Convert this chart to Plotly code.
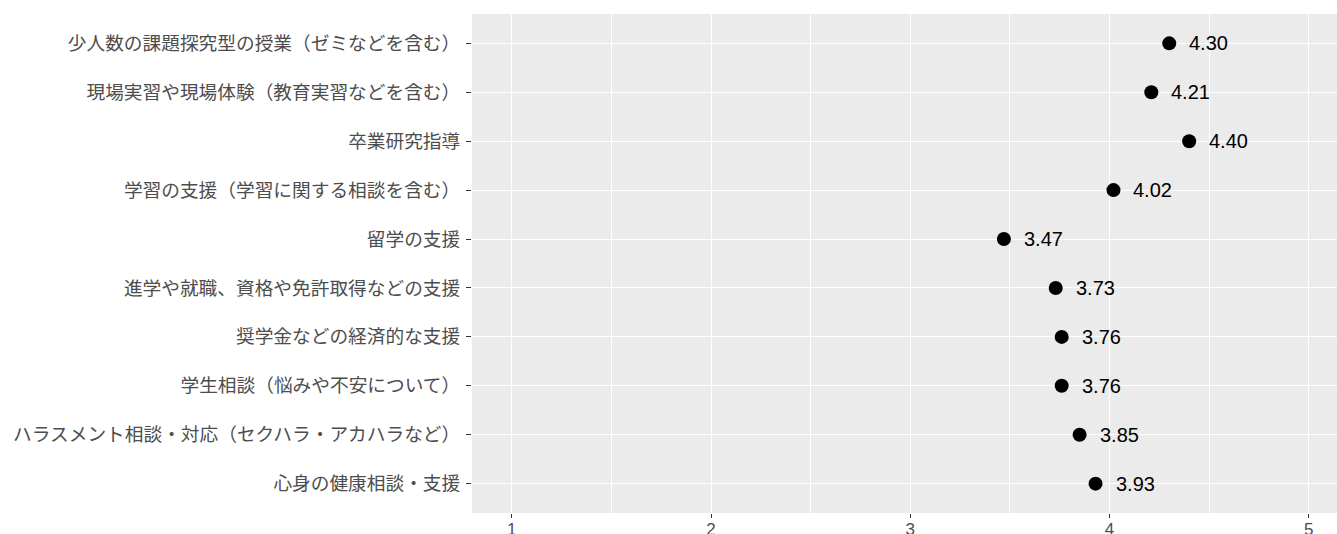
import plotly.graph_objects as go

categories = [
    "少人数の課題探究型の授業（ゼミなどを含む）",
    "現場実習や現場体験（教育実習などを含む）",
    "卒業研究指導",
    "学習の支援（学習に関する相談を含む）",
    "留学の支援",
    "進学や就職、資格や免許取得などの支援",
    "奨学金などの経済的な支援",
    "学生相談（悩みや不安について）",
    "ハラスメント相談・対応（セクハラ・アカハラなど）",
    "心身の健康相談・支援",
]
values = [4.30, 4.21, 4.40, 4.02, 3.47, 3.73, 3.76, 3.76, 3.85, 3.93]
x_ticks = [1, 2, 3, 4, 5]
labels = [f"{v:.2f}" for v in values]

fig = go.Figure()
fig.add_trace(go.Scatter(
    x=values, y=categories, mode="markers",
    marker=dict(color="black", size=14, line=dict(width=0)),
    showlegend=False, hoverinfo="skip",
))
for v, c, t in zip(values, categories, labels):
    fig.add_annotation(x=v, y=c, text=t, showarrow=False, xanchor="left",
                       yanchor="middle", xshift=18,
                       font=dict(family="Liberation Sans, Arial", size=20, color="black"))

fig.update_layout(
    width=1337, height=534,
    margin=dict(l=472, r=0, t=14, b=21, autoexpand=False),
    paper_bgcolor="white", plot_bgcolor="#EBEBEB",
    xaxis=dict(
        automargin=False,
        range=[0.8, 5.142], tickvals=x_ticks, ticktext=[str(t) for t in x_ticks],
        showgrid=True, gridcolor="white", gridwidth=1.2,
        minor=dict(dtick=0.5, tick0=0.5, showgrid=True, gridcolor="white", gridwidth=0.6),
        ticks="outside", ticklen=4, tickcolor="#333333", tickwidth=1,
        ticklabelstandoff=-3,
        tickfont=dict(family="Liberation Sans, Arial", size=17, color="#4D4D4D"),
        zeroline=False, showline=False,
    ),
    yaxis=dict(
        automargin=False,
        type="category", categoryorder="array", categoryarray=categories,
        range=[9.6, -0.6],
        showgrid=True, gridcolor="white", gridwidth=1.2,
        ticks="outside", ticklen=5, tickcolor="#333333", tickwidth=1,
        ticklabelstandoff=2,
        tickfont=dict(family="Noto Sans CJK JP", size=18.7, color="#4D4D4D"),
        zeroline=False, showline=False,
    ),
)

fig.write_html(
    "out.html",
    config={"displayModeBar": False},
    post_script="document.body.style.margin='0';document.body.style.overflow='hidden';",
)
